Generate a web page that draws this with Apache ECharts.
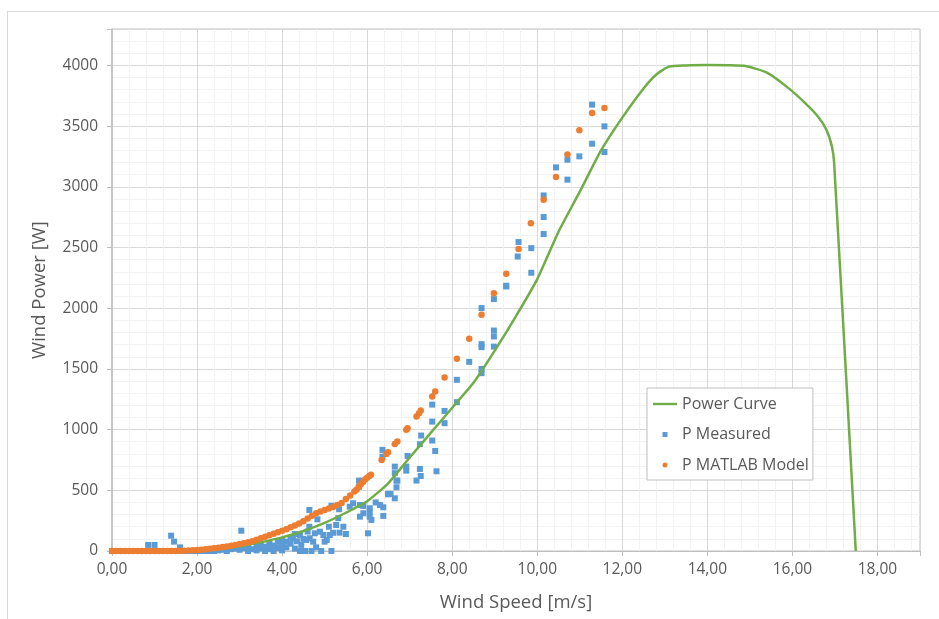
<!DOCTYPE html>
<html>
<head>
<meta charset="utf-8">
<script src="https://cdn.jsdelivr.net/npm/echarts@6/dist/echarts.min.js"></script>
<style>
  html, body { margin: 0; padding: 0; background: #fff; }
  #frame { position: absolute; left: 7px; top: 11px; width: 960px; height: 640px;
           border-left: 1px solid #d9d9d9; border-top: 1px solid #d9d9d9; }
  #chart { position: absolute; left: 0; top: 0; width: 939px; height: 619px; }
</style>
</head>
<body>
<div id="frame"></div>
<div id="chart"></div>
<script>
// Power curve (green line)
var powerX = [0, 1.5, 2, 2.5, 3, 3.5, 4, 4.5, 5, 5.5, 6, 6.5, 7, 7.5, 8, 8.5, 9, 9.5, 10, 10.5, 11, 11.5, 12,
              12.5, 12.8, 13.1, 13.5, 14, 14.5, 14.9, 15.4, 15.9, 16.3, 16.6, 16.8, 16.93, 16.98, 17.49];
var powerY = [0, 0, 3, 15, 38, 72, 112, 165, 232, 315, 410, 560, 770, 975, 1180, 1385, 1650, 1935, 2240, 2630, 2960, 3300, 3570,
              3810, 3925, 3990, 4000, 4003, 4002, 3995, 3940, 3815, 3690, 3580, 3470, 3330, 3200, 0];

// P Measured (blue squares)
var measuredX = [0, 0.1, 0.2, 0.3, 0.4, 0.5, 0.6, 0.7, 0.8, 0.9, 1.0, 1.1, 1.2, 1.3, 1.4, 1.5, 1.6, 1.7, 1.8, 1.9, 2.0, 2.1, 2.2, 2.3, 2.4,
  0.85, 1.0, 1.39, 1.46, 1.6, 3.04,
  2.5, 2.6, 2.7, 2.8, 2.9, 3.0, 3.1, 3.2, 3.2, 3.3, 3.4, 3.4, 3.5, 3.5, 3.6, 3.6, 3.7, 3.7, 3.8, 3.8, 3.9, 3.9,
  4.0, 4.0, 4.0, 4.1, 4.1, 4.2, 4.2, 4.26, 4.3, 4.3, 4.35, 4.42, 4.42, 4.45, 4.5, 4.54, 4.57, 4.6, 4.64, 4.64, 4.65,
  4.69, 4.73, 4.77, 4.8, 4.83, 4.89, 4.92, 4.97, 5.0, 5.05, 5.1, 5.12, 5.16, 5.16, 5.2, 5.27, 5.32, 5.34, 5.35, 5.44,
  5.5, 5.59, 5.67, 5.81, 5.81, 5.83, 5.83, 5.91, 5.91, 6.02, 6.06, 6.06, 6.06, 6.1, 6.2, 6.3, 6.36, 6.36, 6.38, 6.38,
  6.49, 6.49, 6.55, 6.65, 6.65, 6.65, 6.69, 6.69, 6.71, 6.92, 6.92, 6.95, 7.16, 7.24, 7.24, 7.26, 7.27, 7.53, 7.53,
  7.53, 7.6, 7.63, 7.82, 7.82, 8.11, 8.11, 8.4, 8.69, 8.69, 8.69, 8.69, 8.69, 8.98, 8.98, 8.98, 8.98, 9.27, 9.27,
  9.54, 9.56, 9.86, 9.86, 10.15, 10.15, 10.15, 10.44, 10.71, 10.71, 10.99, 11.29, 11.29, 11.58, 11.58];
var measuredY = [0, 0, 0, 0, 0, 0, 0, 0, 0, 0, 0, 0, 0, 0, 0, 0, 0, 0, 0, 0, 0, 0, 0, 0, 0,
  50, 50, 126, 77, 30, 167,
  5, 10, 0, 15, 20, 10, 25, 0, 35, 15, 40, 5, 20, 55, 0, 35, 60, 15, 45, 0, 75, 25,
  90, 50, 5, 77, 30, 110, 60, 105, 20, 140, 80, 132, 0, 50, 100, 0, 91, 160, 200, 338, 105,
  0, 77, 146, 30, 261, 159, 0, 132, 77, 91, 200, 132, 0, 373, 150, 214, 270, 344, 151, 200,
  140, 365, 393, 580, 530, 379, 283, 371, 311, 146, 352, 324, 283, 256, 400, 379, 833, 777, 360, 289,
  470, 467, 470, 434, 695, 641, 580, 525, 580, 695, 662, 783, 580, 880, 676, 618, 951, 1206, 1066,
  910, 824, 657, 1154, 1053, 1410, 1226, 1558, 2001, 1704, 1679, 1500, 1465, 2075, 1816, 1767, 1684, 2179, 2185,
  2426, 2545, 2495, 2292, 2929, 2751, 2611, 3160, 3223, 3059, 3251, 3677, 3355, 3498, 3287];

// P MATLAB Model (orange dots)
var modelX = [0, 0.1, 0.2, 0.3, 0.4, 0.5, 0.6, 0.7, 0.8, 0.9, 1.0, 1.1, 1.2, 1.3, 1.4, 1.5, 1.6, 1.7, 1.8, 1.9,
  2.0, 2.1, 2.2, 2.3, 2.4, 2.5, 2.6, 2.7, 2.8, 2.9, 3.0, 3.1, 3.2, 3.3, 3.4, 3.5, 3.6, 3.7, 3.8, 3.9,
  4.0, 4.1, 4.2, 4.3, 4.4, 4.5, 4.6, 4.7, 4.8, 4.9, 5.0, 5.1, 5.2, 5.3, 5.4, 5.5, 5.6, 5.7, 5.75, 5.8,
  5.85, 5.9, 5.95, 6.0, 6.05, 6.09,
  6.34, 6.45, 6.49, 6.65, 6.71, 6.92, 6.95, 7.16, 7.22, 7.26, 7.53, 7.6, 7.82, 8.11, 8.4, 8.69, 8.98,
  9.27, 9.56, 9.85, 10.15, 10.44, 10.71, 10.99, 11.29, 11.58];
var modelY = [0, 0, 0, 0, 0, 0, 0, 0, 0, 0, 0, 0, 0, 0, 1, 1, 2, 3, 4, 6,
  8, 11, 14, 18, 22, 27, 32, 38, 44, 50, 57, 64, 72, 81, 92, 106, 118, 130, 142, 154,
  166, 180, 195, 210, 226, 245, 268, 290, 310, 326, 338, 350, 362, 378, 396, 428, 458, 490, 505, 528,
  548, 568, 588, 604, 618, 628,
  750, 800, 814, 882, 901, 998, 1012, 1107, 1135, 1157, 1272, 1313, 1429, 1583, 1748, 1946, 2124,
  2284, 2487, 2699, 2894, 3081, 3267, 3465, 3608, 3650];

function pairs(xs, ys) {
  var out = [];
  for (var i = 0; i < xs.length; i++) out.push([xs[i], ys[i]]);
  return out;
}

var textColor = '#595959';
var fontFamily = 'Open Sans';

var chart = echarts.init(document.getElementById('chart'));
var option = {
  animation: false,
  textStyle: { fontFamily: fontFamily },
  grid: { left: 112, top: 29, width: 808, height: 522, show: true, borderColor: '#bfbfbf', borderWidth: 1 },
  legend: {
    orient: 'vertical',
    left: 647, top: 388,
    padding: [8, 4, 7, 6],
    itemWidth: 24, itemHeight: 14, itemGap: 14.5,
    backgroundColor: '#fff',
    borderColor: '#bfbfbf', borderWidth: 1,
    textStyle: { color: textColor, fontSize: 16, fontFamily: fontFamily },
    data: [
      { name: 'Power Curve', icon: 'path://M0,0M24,14M0,5.8h24v2.4h-24z' },
      { name: 'P Measured', icon: 'path://M0,0M24,14M9.5,4.5h5v5h-5z' },
      { name: 'P MATLAB Model', icon: 'path://M0,0M24,14M14.5,7a2.5,2.5 0 1,1 -5,0a2.5,2.5 0 1,1 5,0z' }
    ]
  },
  xAxis: [
    {
      type: 'value', min: 0, max: 19, interval: 0.4,
      axisLine: { show: false }, axisTick: { show: false }, axisLabel: { show: false },
      splitLine: { show: true, lineStyle: { color: '#f2f2f2', width: 1 } }
    },
    {
      type: 'value', min: 0, max: 19, interval: 2, position: 'bottom',
      name: 'Wind Speed [m/s]', nameLocation: 'middle', nameGap: 42,
      nameTextStyle: { color: textColor, fontSize: 18.5, fontFamily: fontFamily },
      axisLine: { show: true, onZero: false, lineStyle: { color: '#bfbfbf' } },
      axisTick: { show: true, length: 5, lineStyle: { color: '#bfbfbf' } },
      axisLabel: {
        color: textColor, fontSize: 15.5, margin: 11,
        formatter: function (v) { return (Math.abs(v / 2 - Math.round(v / 2)) < 1e-6) ? v.toFixed(2).replace('.', ',') : ''; }
      },
      splitLine: { show: true, lineStyle: { color: '#d9d9d9', width: 1 } }
    }
  ],
  yAxis: [
    {
      type: 'value', min: 0, max: 4300, interval: 100,
      axisLine: { show: false }, axisTick: { show: false }, axisLabel: { show: false },
      splitLine: { show: true, lineStyle: { color: '#f2f2f2', width: 1 } }
    },
    {
      type: 'value', min: 0, max: 4300, interval: 500, position: 'left',
      name: 'Wind Power [W]', nameLocation: 'middle', nameGap: 63,
      nameTextStyle: { color: textColor, fontSize: 18.5, fontFamily: fontFamily },
      axisLine: { show: true, onZero: false, lineStyle: { color: '#bfbfbf', width: 1.5 } },
      axisTick: { show: true, length: 5, lineStyle: { color: '#bfbfbf' } },
      axisLabel: {
        color: textColor, fontSize: 15.5, margin: 14,
        formatter: function (v) { return (v % 500 === 0) ? String(v) : ''; }
      },
      splitLine: { show: true, lineStyle: { color: '#d9d9d9', width: 1 } }
    }
  ],
  series: [
    {
      name: 'Power Curve', type: 'line', xAxisIndex: 0, yAxisIndex: 0,
      data: pairs(powerX, powerY),
      symbol: 'none', smooth: 0.2, z: 3,
      lineStyle: { color: '#70ad47', width: 2.5 },
      itemStyle: { color: '#70ad47' }
    },
    {
      name: 'P Measured', type: 'scatter', xAxisIndex: 0, yAxisIndex: 0,
      data: pairs(measuredX, measuredY),
      symbol: 'rect', symbolSize: 6, z: 2,
      itemStyle: { color: '#5b9bd5', opacity: 1 }
    },
    {
      name: 'P MATLAB Model', type: 'scatter', xAxisIndex: 0, yAxisIndex: 0,
      data: pairs(modelX, modelY),
      symbol: 'circle', symbolSize: 6.5, z: 4,
      itemStyle: { color: '#ed7d31', opacity: 1 }
    }
  ]
};
chart.setOption(option);
window.onresize = chart.resize;
</script>
</body>
</html>
